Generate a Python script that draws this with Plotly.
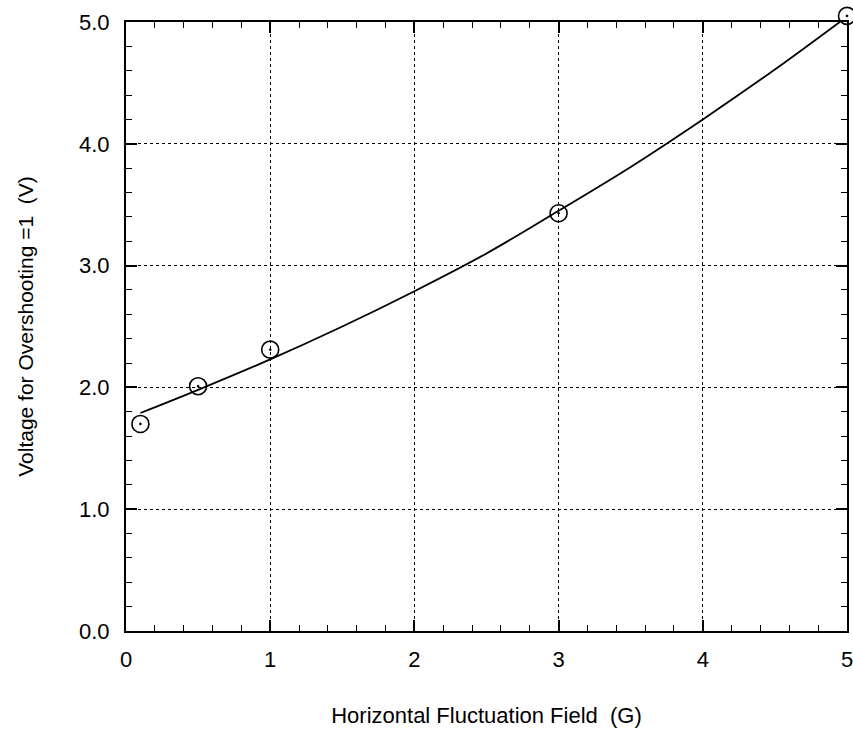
import plotly.graph_objects as go

# measured data points
field_pts = [0.1, 0.5, 1.0, 3.0, 5.0]
volt_pts = [1.70, 2.01, 2.31, 3.43, 5.05]

# fitted curve
curve_x = [0.1, 0.5, 1.0, 1.5, 2.0, 2.5, 3.0, 3.5, 4.0, 4.5, 4.95]
curve_y = [1.79, 1.98, 2.23, 2.50, 2.79, 3.10, 3.45, 3.81, 4.20, 4.61, 5.0]

x_ticks = [0, 1, 2, 3, 4, 5]
x_labels = ["0", "1", "2", "3", "4", "5"]
y_ticks = [0, 1, 2, 3, 4, 5]
y_labels = ["0.0", "1.0", "2.0", "3.0", "4.0", "5.0"]

FONT = "Liberation Sans, Arial, Helvetica, sans-serif"

W, H = 853, 732
M_L, M_R, M_T, M_B = 126, 6, 4, 101
PLOT_TOP = 22  # pixel row of y = 5.0
Y_MAX = 5.0
plot_h = H - M_T - M_B
main_h = H - PLOT_TOP - M_B
dom_top = main_h / plot_h
y2_max = Y_MAX * plot_h / main_h

fig = go.Figure()
fig.add_trace(go.Scatter(
    x=curve_x, y=curve_y, mode="lines", xaxis="x", yaxis="y",
    line=dict(color="black", width=1.8, shape="spline"),
    hoverinfo="skip", showlegend=False, cliponaxis=False,
))
fig.add_trace(go.Scatter(
    x=field_pts, y=volt_pts, mode="markers", xaxis="x2", yaxis="y2",
    marker=dict(symbol="circle-open-dot", size=17, color="black",
                line=dict(color="black", width=1.6)),
    showlegend=False, cliponaxis=False,
))

axis_common = dict(
    showline=True, linecolor="black", linewidth=2, mirror="allticks",
    ticks="inside", ticklen=11, tickwidth=2, tickcolor="black",
    showgrid=True, gridcolor="black", gridwidth=1, griddash="dot",
    zeroline=False, automargin=False, ticklabeloverflow="allow",
    tickfont=dict(family=FONT, size=22, color="black"),
    minor=dict(ticks="inside", ticklen=6, tickwidth=1.3, tickcolor="black",
               dtick=0.2, showgrid=False),
)

fig.update_layout(
    width=W, height=H,
    margin=dict(l=M_L, r=M_R, t=M_T, b=M_B, autoexpand=False),
    paper_bgcolor="white", plot_bgcolor="rgba(0,0,0,0)",
    xaxis=dict(
        range=[0, 5], domain=[0, 1], anchor="y",
        tickvals=x_ticks, ticktext=x_labels,
        ticklabelstandoff=8,
        title=dict(text="Horizontal Fluctuation Field  (G)",
                   font=dict(family=FONT, size=22, color="black"), standoff=36),
        **axis_common,
    ),
    yaxis=dict(
        range=[0, Y_MAX], domain=[0, dom_top], anchor="x",
        tickvals=y_ticks, ticktext=y_labels,
        ticklabelstandoff=10,
        title=dict(text="Voltage for Overshooting =1  (V)",
                   font=dict(family=FONT, size=21, color="black"), standoff=40),
        **axis_common,
    ),
    xaxis2=dict(
        range=[0, 5], domain=[0, 1], anchor="y2", automargin=False,
        visible=False, showgrid=False, zeroline=False,
    ),
    yaxis2=dict(
        range=[0, y2_max], domain=[0, 1], anchor="x2", automargin=False,
        visible=False, showgrid=False, zeroline=False,
    ),
)

fig.write_html("out.html")
